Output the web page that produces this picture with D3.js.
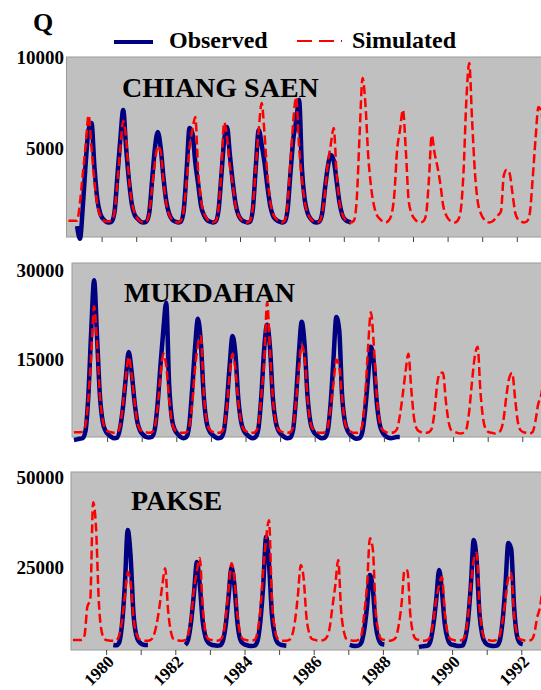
<!DOCTYPE html>
<html>
<head>
<meta charset="utf-8">
<script src="https://cdn.jsdelivr.net/npm/d3@7"></script>
<style>
  body { margin: 0; background: #fff; }
  svg { display: block; }
  text { font-family: "Liberation Serif", "Times New Roman", serif; font-weight: bold; }
</style>
</head>
<body>
<div id="chart"></div>
<script>
// tick values
var yearTicks = d3.range(1980, 1993);
var yearLabels = [1980, 1982, 1984, 1986, 1988, 1990, 1992];
var csTicks = [5000, 10000];
var mkTicks = [15000, 30000];
var pkTicks = [25000, 50000];

// monthly discharge (m3/s), one row per year starting Jan 1979, null = no record
var csSim = [
  1000, 1000, 1000, 1000, 2000, 3600, 5200, 6800, 5000, 3200, 1900, 1300,   // 1979
  1050, 950, 950, 1000, 1500, 3200, 5000, 6500, 5500, 3300, 2000, 1400,     // 1980
  1100, 950, 900, 950, 1400, 2800, 4200, 5100, 4800, 3100, 1900, 1300,      // 1981
  1050, 950, 900, 1000, 1600, 3200, 5000, 6000, 6700, 3700, 2100, 1400,     // 1982
  1100, 950, 900, 950, 1600, 3600, 6400, 5600, 4000, 3000, 1800, 1300,      // 1983
  1050, 950, 900, 1000, 1800, 4000, 6000, 7470, 5800, 3500, 2000, 1350,     // 1984
  1100, 950, 900, 1000, 1900, 4200, 6500, 7800, 5000, 3300, 2000, 1400,     // 1985
  1100, 950, 900, 950, 1400, 2600, 4200, 5200, 6100, 3600, 2000, 1350,      // 1986
  1050, 950, 900, 1000, 2200, 5800, 8850, 7400, 4500, 2800, 1800, 1300,     // 1987
  1100, 950, 900, 1000, 1300, 2400, 4900, 6000, 7100, 4900, 2100, 1400,     // 1988
  1100, 950, 900, 950, 1300, 3200, 5700, 4700, 3950, 3000, 1800, 1300,      // 1989
  1050, 950, 900, 1000, 1500, 3600, 7600, 9670, 6500, 3600, 2000, 1400,     // 1990
  1100, 950, 900, 950, 1100, 1300, 1500, 3500, 3800, 3600, 2500, 1400,      // 1991
  1050, 950, 900, 950, 1400, 3300, 5500, 7250, 7000, 5000                   // 1992
];
var csObs = [
  null, null, null, 700, 0, 1800, 4200, 6000, 6370, 4000, 2200, 1400,       // 1979
  1100, 950, 900, 950, 1500, 3500, 5500, 7090, 5000, 3200, 1900, 1300,      // 1980
  1100, 950, 900, 950, 1400, 3200, 5000, 5880, 5000, 3300, 2000, 1350,      // 1981
  1050, 950, 900, 950, 1600, 3800, 6100, 5800, 4200, 3000, 1800, 1300,      // 1982
  1050, 950, 900, 950, 1500, 3400, 5400, 6150, 4600, 3100, 1900, 1300,      // 1983
  1050, 950, 900, 950, 1700, 4000, 5990, 5200, 4200, 2900, 1800, 1250,      // 1984
  1050, 950, 900, 950, 1600, 3600, 5500, 6500, 7640, 3800, 2100, 1400,      // 1985
  1100, 950, 900, 950, 1400, 2800, 4000, 4610, 4300, 3200, 2000, 1300,      // 1986
  1050, 950, 900                                                            // 1987
];

var mkSim = [
  2800, 2800, 2800, 2900, 4000, 8500, 16000, 24000, 18000, 9000, 4800, 3300,   // 1979
  2900, 2800, 2700, 2800, 3800, 7500, 12000, 15500, 12500, 8000, 4500, 3200,   // 1980
  2900, 2800, 2700, 2800, 3600, 7000, 12500, 16000, 14000, 8500, 4500, 3200,   // 1981
  2900, 2700, 2700, 2800, 3800, 7500, 13500, 17500, 19000, 9500, 4800, 3300,   // 1982
  2900, 2700, 2700, 2800, 3600, 7000, 12500, 16000, 13500, 8000, 4500, 3200,   // 1983
  2900, 2700, 2700, 2900, 4200, 9000, 15000, 24700, 16500, 8500, 4500, 3200,   // 1984
  2900, 2700, 2700, 2800, 3800, 8000, 13500, 17500, 15500, 8500, 4500, 3200,   // 1985
  2900, 2700, 2700, 2800, 3600, 7000, 11000, 15000, 14000, 8500, 4500, 3200,   // 1986
  2900, 2700, 2700, 2800, 4000, 9000, 17000, 23000, 17500, 9000, 4600, 3200,   // 1987
  2900, 2700, 2700, 2800, 3300, 5500, 9000, 13000, 16000, 10000, 5000, 3300,   // 1988
  2900, 2700, 2700, 2800, 3300, 6000, 11000, 12800, 12800, 8000, 4400, 3100,   // 1989
  2900, 2700, 2600, 2700, 3200, 6000, 11000, 15500, 17200, 9500, 4800, 3200,   // 1990
  2800, 2700, 2600, 2700, 3100, 5000, 9000, 12000, 12800, 8500, 4400, 3100,    // 1991
  2800, 2700, 2600, 2800, 4500, 7500, 9000, 12000                              // 1992
];
var mkObs = [
  1500, 1600, 1700, 1800, 3000, 9000, 20000, 28400, 19000, 9000, 4500, 3000,   // 1979
  2400, 2000, 1800, 1900, 3500, 7000, 12000, 16300, 13000, 8000, 4500, 3000,   // 1980
  2400, 2000, 1900, 2000, 3200, 7500, 14000, 20000, 24600, 11000, 5000, 3200,  // 1981
  2500, 2000, 1800, 2000, 4000, 10000, 17000, 21900, 18000, 9000, 4500, 3000,  // 1982
  2400, 2000, 1800, 1900, 3000, 7500, 14000, 19000, 16000, 8500, 4500, 3000,   // 1983
  2400, 2000, 1800, 2000, 3500, 9000, 17000, 20900, 17000, 8500, 4500, 3000,   // 1984
  2400, 2000, 1800, 1900, 3200, 8500, 16000, 21400, 17500, 9000, 4500, 3000,   // 1985
  2400, 2000, 1800, 1900, 3000, 7500, 15000, 22200, 20000, 9000, 4500, 3000,   // 1986
  2300, 1900, 1700, 1800, 2800, 6500, 12000, 17200, 14500, 8000, 4200, 2800,   // 1987
  2200, 1900, 1800, 1900, 2000, 2000                                           // 1988
];

var pkSim = [
  4800, 4800, 4800, 4800, 6000, 14000, 16000, 43000, 36000, 15000, 7000, 5000,  // 1979
  4700, 4600, 4600, 4700, 6000, 10000, 17000, 23600, 21000, 11000, 6500, 5000,  // 1980
  4800, 4600, 4600, 4800, 6000, 9000, 14000, 20000, 24700, 13000, 7000, 5000,   // 1981
  4800, 4600, 4600, 4800, 6500, 11000, 19000, 24000, 27500, 14000, 7000, 5000,  // 1982
  4800, 4600, 4600, 4800, 6000, 11000, 19000, 26100, 22000, 12000, 6500, 5000,  // 1983
  4800, 4600, 4600, 4800, 7000, 13000, 24000, 33000, 38000, 16000, 8000, 5200,  // 1984
  4800, 4600, 4600, 4800, 6000, 10000, 17000, 25600, 22000, 11000, 6500, 5000,  // 1985
  4800, 4600, 4600, 4800, 5500, 8000, 14000, 20000, 27000, 13000, 7000, 5000,   // 1986
  4800, 4600, 4600, 4800, 6000, 12000, 20000, 33000, 30000, 13000, 7000, 5000,  // 1987
  4800, 4600, 4600, 4800, 5500, 9000, 15000, 24200, 24000, 12000, 6500, 5000,   // 1988
  4800, 4600, 4600, 4800, 6000, 10000, 16000, 20000, 22300, 12000, 6500, 5000,  // 1989
  4800, 4600, 4600, 4800, 6000, 11000, 20000, 27000, 29000, 14000, 7000, 5000,  // 1990
  4800, 4600, 4600, 4800, 6000, 10000, 16000, 22000, 23400, 12000, 6500, 5000,  // 1991
  4800, 4600, 4600, 4800, 6500, 11000, 14000, 20000                             // 1992
];
var pkObs = [
  null, null, null, null, null, null, null, null, null, null, null, null,       // 1979
  null, null, 3400, 3300, 4000, 9000, 20000, 35300, 28000, 12000, 6000, 4200,   // 1980
  3600, 3400, 3400, null, null, null, null, null, null, null, null, null,       // 1981
  null, null, null, 3400, 5000, 10000, 18000, 26400, 20000, 10000, 5500, 4000,  // 1982
  3500, 3300, 3200, 3300, 4500, 9000, 17000, 25000, 20000, 10000, 5000, 3800,   // 1983
  3400, 3200, 3100, 3200, 4500, 10000, 20000, 33400, 26000, 12000, 6000, 4000,  // 1984
  3500, 3300, 3200, null, null, null, null, null, null, null, null, null,       // 1985
  null, null, null, null, null, null, null, null, null, null, null, null,       // 1986
  3400, 3200, 3100, 3200, 4000, 7500, 14000, 22800, 19000, 9000, 5000, 3700,    // 1987
  3500, null, null, null, null, null, null, null, null, null, null, null,       // 1988
  2800, 3000, 3100, 3200, 4500, 9000, 16000, 24200, 18000, 9000, 5000, 3600,    // 1989
  3400, 3200, 3100, 3200, 5000, 10000, 20000, 32500, 27000, 12000, 6000, 4000,  // 1990
  3400, 3200, 3100, 3200, 4500, 10000, 20000, 31700, 30000, 14000, 6000, 4000,  // 1991
  3600                                                                          // 1992
];

var svgWidth = 541;
var svgHeight = 690;

var svg = d3.select("#chart")
    .append("svg")
    .attr("width", svgWidth)
    .attr("height", svgHeight);

// month index -> decimal year (middle of the month)
function toSeries(arr) {
    return arr.map(function(v, i) { return {t: 1979 + (i + 0.5) / 12, v: v}; });
}

var panels = [
    {name: "CHIANG SAEN", sim: csSim, obs: csObs, ticks: csTicks, yDomain: [100, 10000],
     top: 57, bottom: 237, left: 67, nameX: 122, nameY: 97, showYears: false},
    {name: "MUKDAHAN", sim: mkSim, obs: mkObs, ticks: mkTicks, yDomain: [2000, 31300],
     top: 263, bottom: 437, left: 72.5, nameX: 124, nameY: 302, showYears: false},
    {name: "PAKSE", sim: pkSim, obs: pkObs, ticks: pkTicks, yDomain: [2000, 51400],
     top: 472, bottom: 650, left: 71.5, nameX: 131, nameY: 510, showYears: true}
];

var yearWidth = 34.6;

panels.forEach(function(p) {
    var g = svg.append("g");

    var x = d3.scaleLinear()
        .domain([1979, 1993])
        .range([p.left, p.left + 14 * yearWidth]);

    var y = d3.scaleLinear()
        .domain(p.yDomain)
        .range([p.bottom, p.top]);

    g.append("rect")
        .attr("x", p.left - 0.5)
        .attr("y", p.top)
        .attr("width", svgWidth - p.left + 2)
        .attr("height", p.bottom - p.top)
        .attr("fill", "#c0c0c0")
        .attr("stroke", "#9a9a9a")
        .attr("stroke-width", 1);

    var line = d3.line()
        .defined(function(d) { return d.v != null; })
        .x(function(d) { return x(d.t); })
        .y(function(d) { return y(d.v); })
        .curve(d3.curveMonotoneX);

    // observed (thick navy)
    g.append("path")
        .datum(toSeries(p.obs))
        .attr("d", line)
        .attr("fill", "none")
        .attr("stroke", "#000080")
        .attr("stroke-width", 4.5)
        .attr("stroke-linejoin", "round");

    // simulated (red dashed) on top
    g.append("path")
        .datum(toSeries(p.sim))
        .attr("d", line)
        .attr("fill", "none")
        .attr("stroke", "#ff0000")
        .attr("stroke-width", 2.5)
        .attr("stroke-dasharray", "9,4");

    // y axis labels
    var yAxis = d3.axisLeft(y)
        .tickValues(p.ticks)
        .tickSize(0)
        .tickPadding(0)
        .tickFormat(d3.format("d"));

    var yg = g.append("g")
        .attr("transform", "translate(64,0)")
        .call(yAxis);
    yg.select(".domain").remove();
    yg.selectAll("text")
        .attr("fill", "#000")
        .style("font-size", "19px");

    // x axis, ticks every year
    var xAxis = d3.axisBottom(x)
        .tickValues(yearTicks)
        .tickSize(5)
        .tickSizeOuter(0)
        .tickFormat(function(d) { return p.showYears && yearLabels.indexOf(d) >= 0 ? d : ""; });

    var xg = g.append("g")
        .attr("transform", `translate(0, ${p.bottom})`)
        .call(xAxis);
    xg.select(".domain").remove();
    xg.selectAll("line").attr("stroke", "#444");
    xg.selectAll("text")
        .attr("fill", "#000")
        .attr("text-anchor", "end")
        .attr("x", -3)
        .attr("y", 15)
        .attr("dy", 0)
        .attr("transform", "rotate(-45)")
        .style("font-size", "17px");

    // station name
    g.append("text")
        .attr("x", p.nameX)
        .attr("y", p.nameY)
        .style("font-size", "28px")
        .text(p.name);
});

// axis title and legend
svg.append("text")
    .attr("x", 33)
    .attr("y", 31)
    .style("font-size", "26px")
    .text("Q");

svg.append("line")
    .attr("x1", 114).attr("x2", 153)
    .attr("y1", 42).attr("y2", 42)
    .attr("stroke", "#000080")
    .attr("stroke-width", 4);

svg.append("text")
    .attr("x", 169)
    .attr("y", 48)
    .style("font-size", "24px")
    .text("Observed");

svg.append("line")
    .attr("x1", 297).attr("x2", 342)
    .attr("y1", 41).attr("y2", 41)
    .attr("stroke", "#ff0000")
    .attr("stroke-width", 2)
    .attr("stroke-dasharray", "15,7");

svg.append("text")
    .attr("x", 352)
    .attr("y", 48)
    .style("font-size", "24px")
    .text("Simulated");
</script>
</body>
</html>
